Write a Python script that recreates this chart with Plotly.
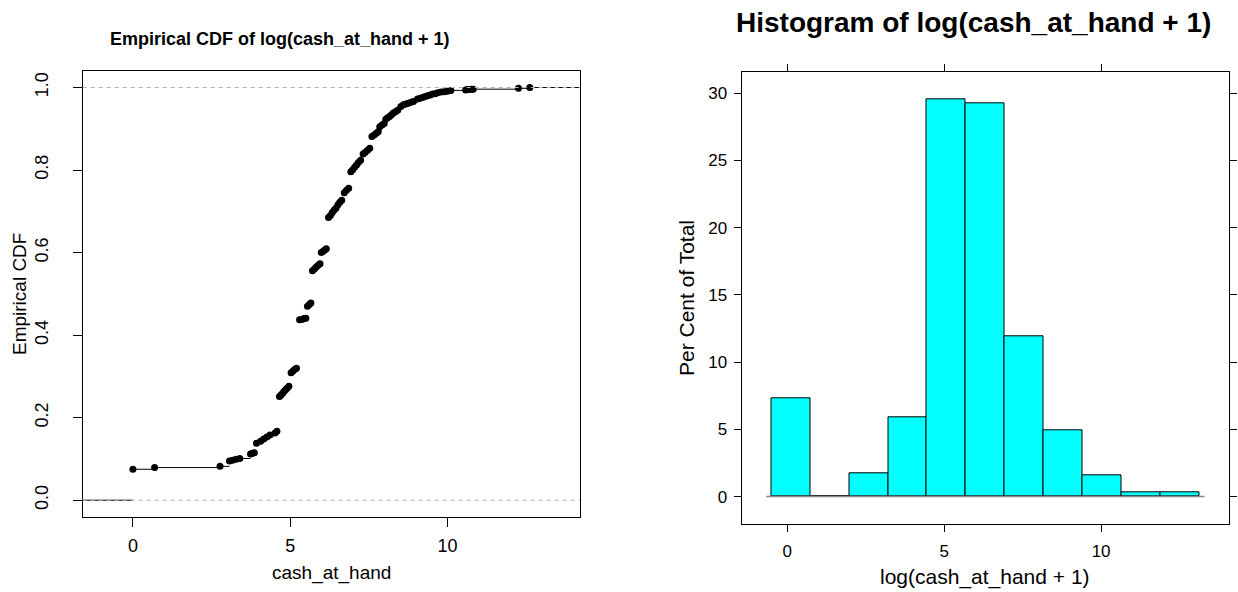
import plotly.graph_objects as go

# ---- data -------------------------------------------------------------
# empirical CDF of log(cash_at_hand + 1): jump locations and CDF values
ecdf_x = [0.00, 0.69, 2.77, 3.07, 3.17, 3.28, 3.40, 3.74, 3.80, 3.86,
          3.93, 4.06, 4.16, 4.26, 4.36, 4.52, 4.58, 4.66, 4.71, 4.76,
          4.81, 4.86, 4.91, 4.96, 5.03, 5.09, 5.15, 5.20, 5.30, 5.37,
          5.44, 5.50, 5.55, 5.61, 5.66, 5.71, 5.77, 5.83, 5.89, 5.95,
          5.99, 6.05, 6.10, 6.15, 6.22, 6.28, 6.34, 6.40, 6.46, 6.52,
          6.58, 6.64, 6.72, 6.79, 6.86, 6.93, 6.99, 7.05, 7.11, 7.17,
          7.24, 7.32, 7.39, 7.46, 7.53, 7.60, 7.67, 7.74, 7.80, 7.85,
          7.92, 7.99, 8.04, 8.10, 8.16, 8.22, 8.28, 8.35, 8.42, 8.52,
          8.60, 8.68, 8.76, 8.84, 8.92, 9.05, 9.13, 9.21, 9.29, 9.37,
          9.45, 9.53, 9.61, 9.69, 9.80, 9.90, 10.00, 10.11, 10.58, 10.64,
          10.70, 10.76, 10.82, 12.26, 12.62]
ecdf_y = [0.075, 0.079, 0.082, 0.095, 0.097, 0.099, 0.101, 0.112, 0.114, 0.115,
          0.138, 0.143, 0.148, 0.153, 0.158, 0.163, 0.167, 0.251, 0.255, 0.259,
          0.264, 0.268, 0.272, 0.276, 0.309, 0.313, 0.317, 0.320, 0.437, 0.438,
          0.440, 0.441, 0.470, 0.474, 0.478, 0.556, 0.560, 0.565, 0.569, 0.573,
          0.600, 0.603, 0.606, 0.609, 0.685, 0.690, 0.697, 0.703, 0.708, 0.716,
          0.722, 0.727, 0.745, 0.751, 0.756, 0.796, 0.801, 0.807, 0.812, 0.818,
          0.824, 0.839, 0.843, 0.848, 0.853, 0.881, 0.885, 0.889, 0.893, 0.905,
          0.909, 0.913, 0.923, 0.927, 0.930, 0.934, 0.938, 0.941, 0.945, 0.954,
          0.958, 0.960, 0.962, 0.964, 0.966, 0.972, 0.974, 0.976, 0.978, 0.980,
          0.982, 0.984, 0.985, 0.987, 0.989, 0.990, 0.991, 0.993, 0.994, 0.995,
          0.995, 0.996, 0.996, 0.998, 1.000]

# histogram of log(cash_at_hand + 1): bin breaks and percent of total
hist_breaks = [-0.505, 0.735, 1.974, 3.214, 4.453, 5.693, 6.932,
               8.172, 9.411, 10.651, 11.890, 13.130]
hist_percent = [7.29, 0.0, 1.71, 5.86, 29.52, 29.27, 11.95, 4.91, 1.56, 0.28, 0.28]

cdf_xticks = [0, 5, 10]
cdf_yticks = [0.0, 0.2, 0.4, 0.6, 0.8, 1.0]
hist_xticks = [0, 5, 10]
hist_yticks = [0, 5, 10, 15, 20, 25, 30]

# ---- layout helpers -----------------------------------------------------
W, H = 1238, 592
FONT = "Liberation Sans, Arial, Helvetica, sans-serif"


def px(x):
    return x / W


def py(y):
    return 1 - y / H


CDF_XRANGE = [-1.596, 14.216]
CDF_YRANGE = [-0.04, 1.04]
HIST_XRANGE = [-1.457, 14.085]
HIST_YRANGE = [-2.065, 31.565]

fig = go.Figure()

# ---- ECDF panel -----------------------------------------------------------
# horizontal steps (no verticals), from the left edge to the right edge
sx, sy = [CDF_XRANGE[0], ecdf_x[0], None], [0, 0, None]
for i in range(len(ecdf_x)):
    x_end = ecdf_x[i + 1] if i + 1 < len(ecdf_x) else CDF_XRANGE[1]
    sx += [ecdf_x[i], x_end, None]
    sy += [ecdf_y[i], ecdf_y[i], None]

fig.add_trace(go.Scatter(x=sx, y=sy, mode="lines", line=dict(color="black", width=1),
                         xaxis="x", yaxis="y", hoverinfo="skip", showlegend=False))
fig.add_trace(go.Scatter(x=ecdf_x, y=ecdf_y, mode="markers",
                         marker=dict(color="black", size=7, line=dict(width=0)),
                         xaxis="x", yaxis="y", showlegend=False))

for level in (0, 1):
    fig.add_shape(type="line", xref="x domain", yref="y", x0=0, x1=1, y0=level, y1=level,
                  line=dict(color="#b3b3b3", width=1, dash="4px,4px"), layer="above")

# ---- histogram panel -----------------------------------------------------
centers = [(a + b) / 2 for a, b in zip(hist_breaks[:-1], hist_breaks[1:])]
widths = [b - a for a, b in zip(hist_breaks[:-1], hist_breaks[1:])]
pad = 0.17
fig.add_trace(go.Scatter(x=[hist_breaks[0] - pad, hist_breaks[-1] + pad], y=[0, 0],
                         mode="lines", line=dict(color="#8c8c8c", width=1.5),
                         xaxis="x2", yaxis="y2", hoverinfo="skip", showlegend=False))
fig.add_trace(go.Bar(x=centers, y=hist_percent, width=widths,
                     marker=dict(color="#00ffff", line=dict(color="black", width=1)),
                     xaxis="x2", yaxis="y2", showlegend=False))

axis_common = dict(showgrid=False, zeroline=False, showline=True, linecolor="black",
                   linewidth=1, ticks="outside", tickcolor="black", tickwidth=1,
                   tickfont=dict(family=FONT, size=18, color="black"))

fig.update_layout(
    width=W, height=H, margin=dict(l=0, r=0, t=0, b=0),
    paper_bgcolor="white", plot_bgcolor="white",
    bargap=0, showlegend=False,
    xaxis=dict(axis_common, domain=[px(82.7), px(580)], range=CDF_XRANGE,
               tickvals=cdf_xticks, ticklen=9, mirror=True, anchor="y",
               ticklabelstandoff=4),
    yaxis=dict(axis_common, domain=[py(516.7), py(71)], range=CDF_YRANGE,
               tickvals=cdf_yticks, ticktext=[f"{v:.1f}" for v in cdf_yticks],
               tickangle=-90, ticklen=9, mirror=True, anchor="x",
               ticklabelstandoff=18),
    xaxis2=dict(axis_common, domain=[px(741.5), px(1229.3)], range=HIST_XRANGE,
                tickvals=hist_xticks, ticklen=7, mirror="ticks", anchor="y2",
                tickfont=dict(family=FONT, size=17, color="black"),
                ticklabelstandoff=4),
    yaxis2=dict(axis_common, domain=[py(524.3), py(72.3)], range=HIST_YRANGE,
                tickvals=hist_yticks, ticklen=7, mirror="ticks", anchor="x2",
                tickfont=dict(family=FONT, size=17, color="black"),
                ticklabelstandoff=3),
)

# ---- titles and axis labels ---------------------------------------------
def label(text, x, y, size, bold=False, angle=0):
    fig.add_annotation(text=f"<b>{text}</b>" if bold else text, xref="paper", yref="paper",
                       x=px(x), y=py(y), xanchor="center", yanchor="middle",
                       showarrow=False, textangle=angle,
                       font=dict(family=FONT, size=size, color="black"))


label("Empirical CDF of log(cash_at_hand + 1)", 280, 39, 18, bold=True)
label("cash_at_hand", 331, 573, 19)
label("Empirical CDF", 19, 294, 19, angle=-90)

label("Histogram of log(cash_at_hand + 1)", 973, 22, 28, bold=True)
label("log(cash_at_hand + 1)", 985.4, 577, 21)
label("Per Cent of Total", 686, 298, 21, angle=-90)

fig.write_html("out.html")
